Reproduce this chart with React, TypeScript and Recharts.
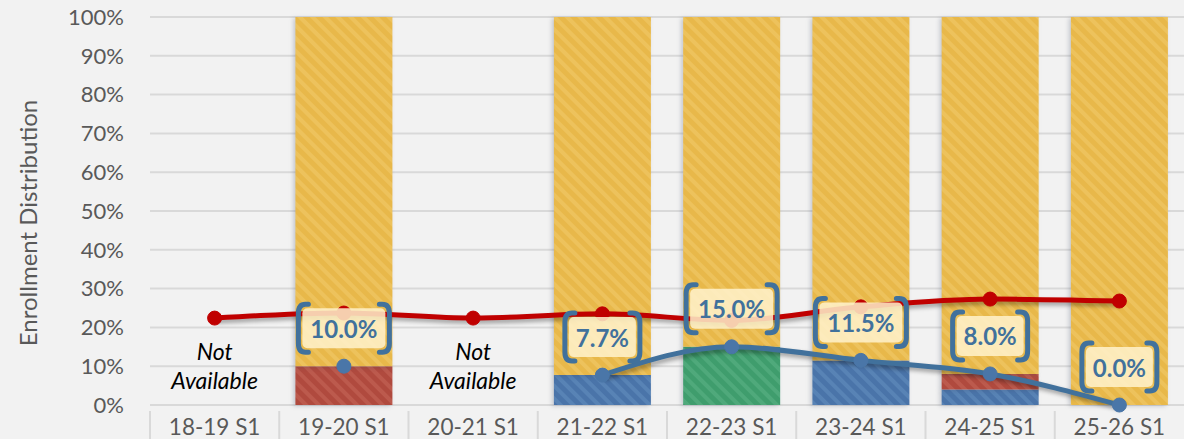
import React from 'react';
import {
  ComposedChart,
  Bar,
  Line,
  XAxis,
  YAxis,
  CartesianGrid,
  LabelList,
  ReferenceDot,
} from 'recharts';

const terms = ['18-19 S1', '19-20 S1', '20-21 S1', '21-22 S1', '22-23 S1', '23-24 S1', '24-25 S1', '25-26 S1'];
const bluePart = [null, null, null, 7.7, null, 11.5, 4, null];
const redPart = [null, 10, null, null, null, null, 4, null];
const greenPart = [null, null, null, null, 15, null, null, null];
const yellowPart = [null, 90, null, 92.3, 85, 88.5, 92, 100];
const redTrend = [22.4, 23.7, 22.4, 23.5, 21.8, 25.3, 27.3, 26.8];
const blueTrend = [null, 10, null, 7.7, 15, 11.5, 8, 0];
const notAvailable = ['18-19 S1', '20-21 S1'];
const yTicks = [0, 10, 20, 30, 40, 50, 60, 70, 80, 90, 100];

const data = terms.map((term, i) => ({
  term,
  blue: bluePart[i],
  red: redPart[i],
  green: greenPart[i],
  yellow: yellowPart[i],
  redTrend: redTrend[i],
  blueTrend: blueTrend[i],
}));

const FONT = 'Lato, "Noto Sans", sans-serif';
const GREY = '#595959';
const LINE_BLUE = '#41719C';

const hatches = [
  { id: 'hatch-yellow', base: '#E8B84A', light: '#EDC25C' },
  { id: 'hatch-red', base: '#B04A3E', light: '#BC5A4D' },
  { id: 'hatch-green', base: '#3F9D6D', light: '#4FA97B' },
  { id: 'hatch-blue', base: '#4A74A9', light: '#5883B5' },
];

function BracketLabel(props: any) {
  const { x, y, value } = props;
  if (value == null) return null;
  const text = `${Number(value).toFixed(1)}%`;
  const w = text.length * 16 + 11;
  const h = 48;
  const cx = x;
  const cy = y - 38;
  const x0 = cx - w / 2;
  const x1 = cx + w / 2;
  const t = cy - h / 2;
  const b = cy + h / 2;
  return (
    <g>
      <rect x={x0 + 4} y={t + 4} width={w - 8} height={h - 8} rx={5} fill="#FFF2CC" fillOpacity={0.85} />
      <path
        d={`M${x0 + 10},${t} L${x0 + 7},${t} Q${x0},${t} ${x0},${t + 9} L${x0},${b - 9} Q${x0},${b} ${x0 + 7},${b} L${x0 + 10},${b}`}
        fill="none" stroke={LINE_BLUE} strokeWidth={5} strokeLinecap="round"
      />
      <path
        d={`M${x1 - 10},${t} L${x1 - 7},${t} Q${x1},${t} ${x1},${t + 9} L${x1},${b - 9} Q${x1},${b} ${x1 - 7},${b} L${x1 - 10},${b}`}
        fill="none" stroke={LINE_BLUE} strokeWidth={5} strokeLinecap="round"
      />
      <text x={cx} y={cy} textAnchor="middle" dominantBaseline="central" fontFamily={FONT} fontWeight={700} fontSize={24} fill={LINE_BLUE}>
        {text}
      </text>
    </g>
  );
}

function NotAvailableLabel(props: any) {
  const { viewBox } = props;
  const x = viewBox.cx ?? viewBox.x;
  const y = viewBox.cy ?? viewBox.y;
  return (
    <text x={x} y={y} textAnchor="middle" fontFamily={FONT} fontStyle="italic" fontSize={23} fill="#000">
      <tspan x={x} dy={-6}>Not</tspan>
      <tspan x={x} dy={29}>Available</tspan>
    </text>
  );
}

function TermTick(props: any) {
  const { x, y, payload } = props;
  const half = payload.offset || 64.6;
  return (
    <g>
      <line x1={x - half} x2={x - half} y1={y - 2} y2={y + 34} stroke="#D9D9D9" strokeWidth={2} />
      <text x={x} y={y + 13} textAnchor="middle" dominantBaseline="central" fontFamily={FONT} fontSize={22.5} fill={GREY}>
        {payload.value}
      </text>
    </g>
  );
}

function YTitle(props: any) {
  const { viewBox } = props;
  const cy = viewBox.y + viewBox.height / 2 + 12;
  return (
    <text
      x={27}
      y={cy}
      transform={`rotate(-90 27 ${cy})`}
      textAnchor="middle"
      dominantBaseline="central"
      fontFamily={FONT}
      fontSize={24}
      fill={GREY}
    >
      Enrollment Distribution
    </text>
  );
}

export default function App() {
  return (
    <div style={{ position: 'absolute', left: 0, top: 0, width: 1184, height: 439, background: '#F2F2F2' }}>
      <style>{`
        .trend-line .recharts-line-curve, .trend-line .recharts-dot { filter: drop-shadow(2px 3px 2px rgba(0,0,0,0.35)); }
        .hatch-bar .recharts-rectangle { filter: drop-shadow(-2px 1px 2px rgba(60,70,100,0.25)); }
      `}</style>
      <ComposedChart
        width={1184}
        height={439}
        data={data}
        margin={{ top: 17, right: 0, bottom: 0, left: 0 }}
        barCategoryGap="12.5%"
      >
        <defs>
          {hatches.map((h) => (
            <pattern key={h.id} id={h.id} width={9} height={9} patternUnits="userSpaceOnUse" patternTransform="rotate(-45)">
              <rect width={9} height={9} fill={h.base} />
              <rect width={4} height={9} fill={h.light} />
            </pattern>
          ))}
        </defs>
        <CartesianGrid vertical={false} stroke="#D9D9D9" strokeWidth={2} />
        <XAxis dataKey="term" axisLine={false} tickLine={false} height={34} tick={<TermTick />} interval={0} />
        <YAxis
          width={150}
          domain={[0, 100]}
          ticks={yTicks}
          axisLine={false}
          tickLine={false}
          tickMargin={20}
          tickFormatter={(v) => `${v}%`}
          tick={{ fontFamily: FONT, fontSize: 22, fill: GREY }}
          label={<YTitle />}
        />
        <Bar className="hatch-bar" dataKey="blue" stackId="s" fill="url(#hatch-blue)" isAnimationActive={false} />
        <Bar className="hatch-bar" dataKey="red" stackId="s" fill="url(#hatch-red)" isAnimationActive={false} />
        <Bar className="hatch-bar" dataKey="green" stackId="s" fill="url(#hatch-green)" isAnimationActive={false} />
        <Bar className="hatch-bar" dataKey="yellow" stackId="s" fill="url(#hatch-yellow)" isAnimationActive={false} />
        <Line
          className="trend-line"
          dataKey="redTrend"
          type="monotone"
          stroke="#C00000"
          strokeWidth={5}
          dot={{ r: 7, fill: '#C00000', stroke: '#C00000', strokeWidth: 1 }}
          activeDot={false}
          isAnimationActive={false}
        />
        <Line
          className="trend-line"
          dataKey="blueTrend"
          type="monotone"
          stroke={LINE_BLUE}
          strokeWidth={5}
          dot={{ r: 7, fill: '#4A76A8', stroke: '#4A76A8', strokeWidth: 1 }}
          activeDot={false}
          isAnimationActive={false}
        >
          <LabelList dataKey="blueTrend" content={<BracketLabel />} />
        </Line>
        {notAvailable.map((t) => (
          <ReferenceDot key={t} x={t} y={10} r={0} fill="none" stroke="none" label={<NotAvailableLabel />} />
        ))}
      </ComposedChart>
    </div>
  );
}
